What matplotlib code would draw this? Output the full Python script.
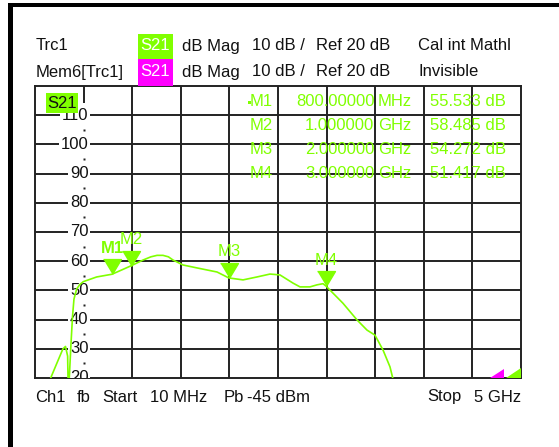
import numpy as np
import matplotlib
matplotlib.use("Agg")
import matplotlib.pyplot as plt
from matplotlib.patches import Rectangle, Polygon
import matplotlib.transforms as mtransforms

# ---------------- data ----------------
freq_ghz = [0.01, 0.08, 0.171, 0.24, 0.297, 0.323, 0.345, 0.353, 0.36, 0.362,
            0.38, 0.395, 0.41, 0.438, 0.47, 0.506, 0.643, 0.8, 0.9, 1.0,
            1.119, 1.2, 1.263, 1.324, 1.38, 1.427, 1.53, 1.673, 1.879, 2.0,
            2.146, 2.289, 2.423, 2.525, 2.659, 2.731, 2.833, 2.905, 2.967, 3.0,
            3.039, 3.172, 3.316, 3.419, 3.5, 3.583, 3.655, 3.683, 3.75]
trace_db = [5.0, 12.0, 20.0, 25.5, 30.0, 30.8, 27.5, 12.0, 14.0, 20.0,
            32.0, 41.0, 47.0, 50.5, 52.0, 53.0, 54.6, 55.533, 57.0, 58.485,
            60.4, 61.5, 62.0, 62.0, 61.5, 60.4, 58.7, 57.7, 56.3, 54.272,
            53.6, 54.6, 55.6, 55.3, 52.5, 51.2, 51.2, 51.9, 52.3, 51.417,
            50.1, 45.6, 39.9, 36.4, 34.7, 29.6, 23.8, 20.0, 12.0]

marker_names = ["M1", "M2", "M3", "M4"]
marker_freq_ghz = [0.8, 1.0, 2.0, 3.0]
marker_db = [55.533, 58.485, 54.272, 51.417]
marker_freq_text = ["800.00000", "1.000000", "2.000000", "3.000000"]
marker_unit_text = ["MHz", "GHz", "GHz", "GHz"]
marker_val_text = ["55.533 dB", "58.485 dB", "54.272 dB", "51.417 dB"]

y_tick_values = [20, 30, 40, 50, 60, 70, 80, 90, 100, 110]
f_start, f_stop = 0.01, 5.0
ref_db, db_per_div, n_div = 20, 10, 10

# ---------------- style ----------------
GREEN = "#80ff00"
MAGENTA = "#ff00ff"
GRID = "#222222"
TXT = "#111111"
FONT = ["Liberation Sans Narrow", "Liberation Sans", "DejaVu Sans"]
FS = 12.0
plt.rcParams["font.family"] = FONT

W, H = 559, 447
fig = plt.figure(figsize=(W / 100, H / 100), dpi=100)
fig.patch.set_facecolor("white")

# main axes (pixel box 35..521 x 86..378)
L, R, T, B = 35, 521, 86, 378
ax = fig.add_axes([L / W, (H - B) / H, (R - L) / W, (B - T) / H])
ax.set_xlim(f_start, f_stop)
ax.set_ylim(ref_db, ref_db + n_div * db_per_div)
ax.set_xticks([])
ax.set_yticks([])
for s in ax.spines.values():
    s.set_color(GRID)
    s.set_linewidth(1.4)

x_div = np.linspace(f_start, f_stop, n_div + 1)
y_div = np.arange(ref_db, ref_db + (n_div + 1) * db_per_div, db_per_div)
for k, xv in enumerate(x_div[1:-1], start=1):
    if k == 1:
        continue
    ax.axvline(xv, color=GRID, lw=1.4, zorder=1)
for yv in y_div[1:-1]:
    ax.axhline(yv, color=GRID, lw=1.4, zorder=1)

# axis column (div 1): short solid segment at top + dots between labels
xa = x_div[1]
ax.plot([xa, xa], [120, 114.3], color=GRID, lw=1.4, zorder=1, solid_capstyle="butt")
ax.plot([xa] * 9, [25, 35, 45, 55, 65, 75, 85, 95, 105], ls="none", marker="s",
        ms=1.6, color=GRID, mec="none", zorder=1)

# y labels on the axis column
blend = mtransforms.blended_transform_factory(ax.transAxes, ax.transData)
for v in y_tick_values:
    ax.text(0.110, v, str(v), transform=blend, ha="right", va="center",
            fontsize=FS, color=TXT, zorder=3, clip_on=True,
            bbox=dict(facecolor="white", edgecolor="none", pad=1.2))

# trace
ax.plot(freq_ghz, trace_db, color=GREEN, lw=1.2, zorder=4, clip_on=True)

# markers: down-pointing triangle with tip on the trace value
tri = [(-0.6, 1.0), (0.6, 1.0), (0.0, 0.0)]
ax.plot(marker_freq_ghz, marker_db, ls="none", marker=tri, ms=21.5,
        color=GREEN, mec=GREEN, zorder=5)
for name, f, v in zip(marker_names, marker_freq_ghz, marker_db):
    ax.annotate(name, (f, v), xytext=(0, 15.5), textcoords="offset points",
                ha="center", va="baseline", fontsize=FS, color=GREEN,
                fontweight="bold" if name == "M1" else "normal", zorder=6)

# ---------------- overlay in pixel coordinates ----------------
ov = fig.add_axes([0, 0, 1, 1])
ov.set_xlim(0, W)
ov.set_ylim(H, 0)
ov.axis("off")
ov.patch.set_alpha(0)

# frame bars
ov.add_patch(Rectangle((8, 3), 5, H, color="black", lw=0))
ov.add_patch(Rectangle((8, 3), W, 4, color="black", lw=0))

# header
rows_y = [46, 72]
ov.text(35.5, rows_y[0], "Trc1", fontsize=FS, va="center", ha="left", color=TXT)
ov.text(35.5, rows_y[1], "Mem6[Trc1]", fontsize=FS, va="center", ha="left", color=TXT)
ov.add_patch(Rectangle((137.5, 34), 35, 24.5, color=GREEN, lw=0))
ov.add_patch(Rectangle((137.5, 58.5), 35, 27, color=MAGENTA, lw=0))
for y in rows_y:
    ov.text(155, y, "S21", fontsize=FS, va="center", ha="center", color="white")
    ov.text(182.5, y, "dB Mag", fontsize=FS, va="center", ha="left", color=TXT)
    ov.text(252, y, "10 dB /", fontsize=FS, va="center", ha="left", color=TXT)
    ov.text(316.5, y, "Ref 20 dB", fontsize=FS, va="center", ha="left", color=TXT)
ov.text(418.5, rows_y[0], "Cal int Mathl", fontsize=FS, va="center", ha="left", color=TXT)
ov.text(418.5, rows_y[1], "Invisible", fontsize=FS, va="center", ha="left", color=TXT)

# trace label box in plot
ov.add_patch(Rectangle((46, 93), 32, 20, color=GREEN, lw=0, zorder=2))
ov.text(62, 103, "S21", fontsize=FS, va="center", ha="center", color=TXT, zorder=3)

# marker table
table_y = [102, 126, 150, 173.5]
ov.add_patch(Rectangle((248, 100.5), 3, 3, color=GREEN, lw=0))
for y, n, ft, ut, vt in zip(table_y, marker_names, marker_freq_text,
                            marker_unit_text, marker_val_text):
    ov.text(272.5, y, n, fontsize=FS, va="center", ha="right", color=GREEN)
    ov.text(374.5, y, ft, fontsize=FS, va="center", ha="right", color=GREEN)
    ov.text(378, y, ut, fontsize=FS, va="center", ha="left", color=GREEN)
    ov.text(430, y, vt, fontsize=FS, va="center", ha="left", color=GREEN)

# limit indicators bottom right
ov.add_patch(Polygon([(490, 378), (504, 378), (504, 369)], closed=True, color=MAGENTA, lw=0))
ov.add_patch(Polygon([(506, 378), (521, 378), (521, 368)], closed=True, color=GREEN, lw=0))

# footer
fy = 397
for x, s in [(35, "Ch1"), (77, "fb"), (102, "Start"), (150, "10 MHz"),
             (224, "Pb"), (247, "-45 dBm"), (427, "Stop")]:
    ov.text(x, fy, s, fontsize=FS, va="center", ha="left", color=TXT)
ov.text(521, fy, "5 GHz", fontsize=FS, va="center", ha="right", color=TXT)

fig.savefig("out.png", dpi=100, facecolor="white")
